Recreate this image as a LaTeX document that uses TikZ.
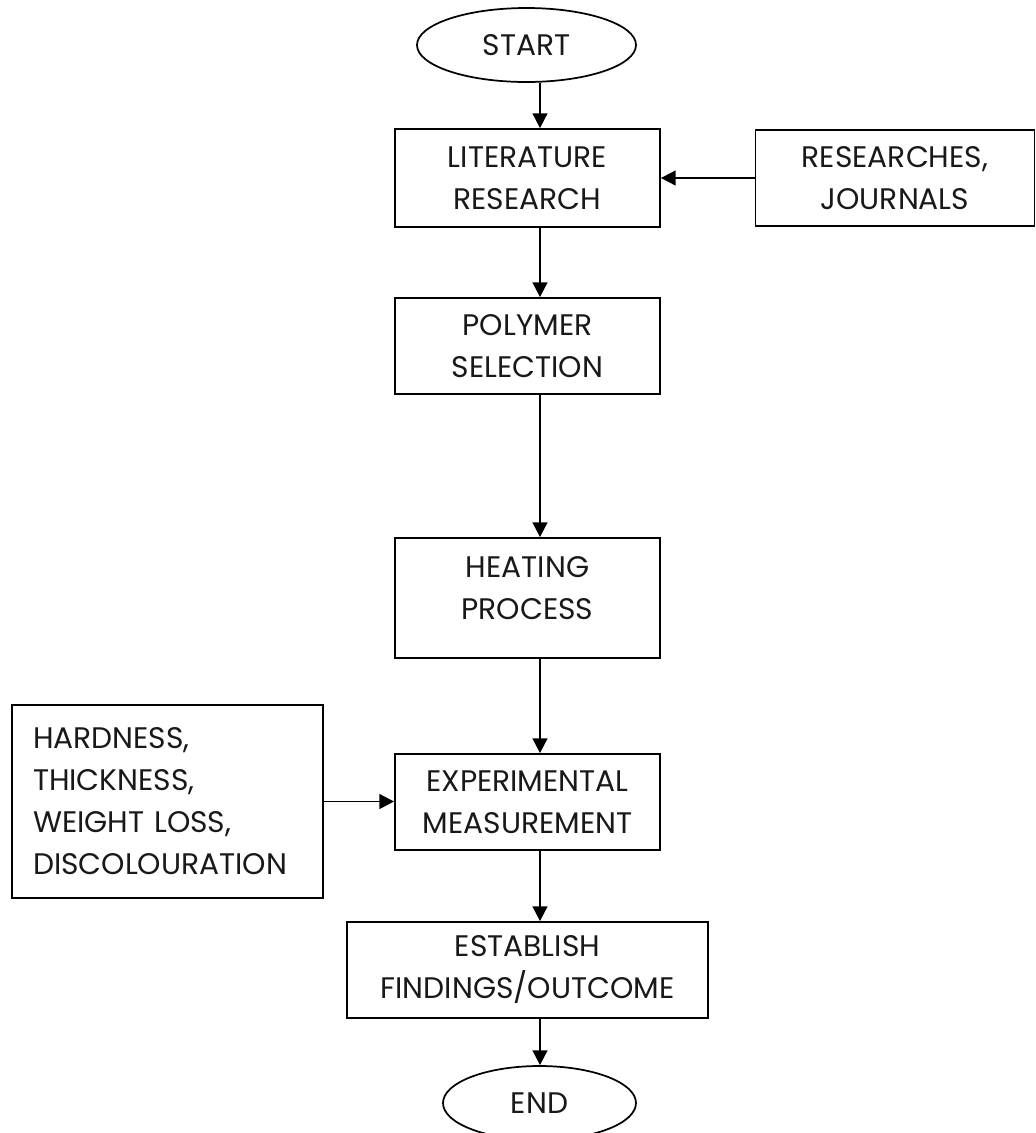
\documentclass[tikz,border=0pt]{standalone}
\usepackage{fontspec}
\setmainfont{Poppins}
\usetikzlibrary{shapes.geometric,arrows.meta}
\begin{document}
\begin{tikzpicture}[x=0.75pt,y=-0.75pt,
  every node/.style={font=\fontsize{22.3}{31.5}\selectfont, text=black!90},
  box/.style={draw, line width=1.3pt, rectangle, inner sep=0pt, align=center},
  term/.style={draw, line width=1.3pt, ellipse, inner sep=0pt, align=center},
  plain/.style={inner sep=0pt, align=center},
  arr/.style={line width=1.3pt, -{Triangle[length=11pt,width=11pt]}}]
\path[use as bounding box] (0,0) rectangle (1036,1133);
\clip (0,0) rectangle (1036,1133);
\fill[white] (0,0) rectangle (1036,1133);
\coordinate (axis) at (540,0);

\node[term, minimum width=164.25pt, minimum height=55.5pt] (start) at (526.5,45) {START};
\node[box, minimum width=198.75pt, minimum height=73.5pt] (lit) at (527.5,178) {LITERATURE\\RESEARCH};
\node[box, minimum width=209.25pt, minimum height=72pt] (res) at (895,178) {RESEARCHES,\\JOURNALS};
\node[box, minimum width=198.75pt, minimum height=72pt] (poly) at (527.5,346) {POLYMER\\SELECTION};
\node[box, minimum width=198.75pt, minimum height=90pt] (heat) at (527.5,598) {};
\node[plain] (heattext) at (527.5,588) {HEATING\\PROCESS};
\node[box, minimum width=198.75pt, minimum height=72pt] (exp) at (527.5,802) {EXPERIMENTAL\\MEASUREMENT};
\node[box, align=left, text width=201.75pt, inner xsep=15.75pt, minimum height=144.75pt] (hard) at (167.5,801.5) {HARDNESS,\\THICKNESS,\\WEIGHT LOSS,\\DISCOLOURATION};
\node[box, minimum width=270.75pt, minimum height=72pt] (est) at (527.5,970) {ESTABLISH\\FINDINGS/OUTCOME};
\node[term, minimum width=144.75pt, minimum height=55.5pt] (end) at (539.5,1103) {END};

\draw[arr] (start.south -| axis) -- (lit.north -| axis);
\draw[arr] (res.west) -- (lit.east);
\draw[arr] (lit.south -| axis) -- (poly.north -| axis);
\draw[arr] (poly.south -| axis) -- (heat.north -| axis);
\draw[arr] (heat.south -| axis) -- (exp.north -| axis);
\draw[arr] (hard.east) -- (hard.east -| exp.west);
\draw[arr] (exp.south -| axis) -- (est.north -| axis);
\draw[arr] (est.south -| axis) -- (end.north -| axis);
\end{tikzpicture}
\end{document}
